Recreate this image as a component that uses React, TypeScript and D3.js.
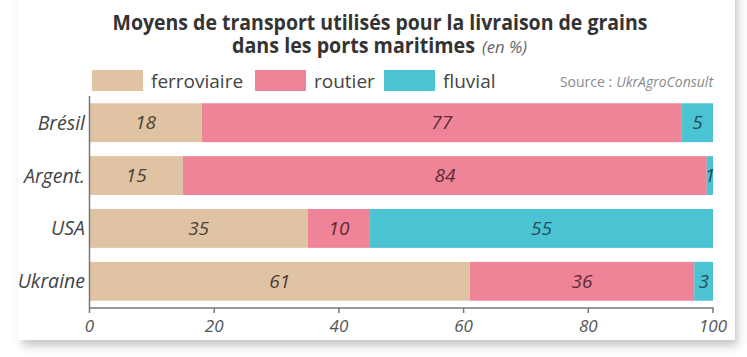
import React from "react";
import * as d3 from "d3";

const categories = ["Brésil", "Argent.", "USA", "Ukraine"];
const seriesNames = ["ferroviaire", "routier", "fluvial"];
const ferroviaire = [18, 15, 35, 61];
const routier = [77, 84, 10, 36];
const fluvial = [5, 1, 55, 3];
const xTicks = [0, 20, 40, 60, 80, 100];

const colors = ["#dfc3a3", "#ef8499", "#4cc3d3"];
const labelColors = ["#4a4039", "#5a2a35", "#1f4d5c"];

const W = 747;
const H = 357;
const FONT = "'Open Sans', 'Noto Sans', sans-serif";

export default function App() {
  const x = d3.scaleLinear().domain([0, 100]).range([89.5, 713]);
  const y = d3.scaleBand<string>().domain(categories).range([98, 306]).paddingInner(0.265).paddingOuter(0.1);

  const rows = categories.map((c, i) => ({
    cat: c,
    ferroviaire: ferroviaire[i],
    routier: routier[i],
    fluvial: fluvial[i],
  }));
  const stack = d3.stack<any>().keys(seriesNames);
  const layers = stack(rows);

  const axisY = 308;

  return (
    <svg width={W} height={H} style={{ position: "absolute", left: 0, top: 0, background: "#ffffff", fontStretch: "88%" }} fontFamily={FONT}>
      <defs>
        <filter id="shadow" x="-5%" y="-5%" width="110%" height="120%">
          <feGaussianBlur stdDeviation="4" />
        </filter>
      </defs>
      <rect x={0} y={0} width={W} height={H} fill="#ffffff" />
      <rect x={22} y={-10} width={716} height={356} fill="#c9c9c9" filter="url(#shadow)" />
      <rect x={18} y={-10} width={717} height={350} fill="#ffffff" />

      {/* Title */}
      <text x={380} y={30} textAnchor="middle" fontSize={20.5} fontWeight="bold" fill="#333333" textLength={535} lengthAdjust="spacingAndGlyphs">
        Moyens de transport utilisés pour la livraison de grains
      </text>
      <text x={232} y={53} fontSize={20.5} fontWeight="bold" fill="#333333" textLength={243} lengthAdjust="spacingAndGlyphs">
        dans les ports maritimes
      </text>
      <text x={482} y={53} fontSize={15.5} fontStyle="italic" fill="#666666" textLength={45} lengthAdjust="spacingAndGlyphs">
        (en %)
      </text>

      {/* Legend */}
      {seriesNames.map((s, i) => {
        const lx = [92, 255, 384][i];
        return (
          <g key={s}>
            <rect x={lx} y={70} width={51} height={21} fill={colors[i]} />
            <text x={lx + 59} y={88} fontSize={19} fill="#444444">{s}</text>
          </g>
        );
      })}
      <text x={713} y={87} textAnchor="end" fontSize={14} fill="#8a8a8a">
        Source :<tspan fontStyle="italic" dx={4}>UkrAgroConsult</tspan>
      </text>

      {/* Bars */}
      {layers.map((layer, li) => (
        <g key={seriesNames[li]}>
          {layer.map((d, i) => (
            <rect
              key={categories[i]}
              x={x(d[0])}
              y={y(categories[i])}
              width={x(d[1]) - x(d[0])}
              height={y.bandwidth()}
              fill={colors[li]}
            />
          ))}
          {layer.map((d, i) => (
            <text
              key={"l" + categories[i]}
              x={(x(d[0]) + x(d[1])) / 2}
              y={(y(categories[i]) as number) + y.bandwidth() / 2 + 6.5}
              textAnchor="middle"
              fontSize={19}
              fontStyle="italic"
              fill={labelColors[li]}
            >
              {d[1] - d[0]}
            </text>
          ))}
        </g>
      ))}

      {/* Category labels */}
      {categories.map((c) => (
        <text
          key={c}
          x={85}
          y={(y(c) as number) + y.bandwidth() / 2 + 7}
          textAnchor="end"
          fontSize={19.5}
          fontStyle="italic"
          fill="#444444"
        >
          {c}
        </text>
      ))}

      {/* Axes */}
      <line x1={89.5} x2={89.5} y1={96} y2={axisY} stroke="#777777" strokeWidth={1.5} />
      <line x1={89} x2={713.5} y1={axisY} y2={axisY} stroke="#777777" strokeWidth={1.5} />
      {xTicks.map((t) => (
        <g key={t}>
          <line x1={x(t)} x2={x(t)} y1={axisY} y2={axisY + 5} stroke="#777777" strokeWidth={1.5} />
          <text x={x(t)} y={332} textAnchor="middle" fontSize={17} fontStyle="italic" fill="#555555">
            {t}
          </text>
        </g>
      ))}
    </svg>
  );
}
